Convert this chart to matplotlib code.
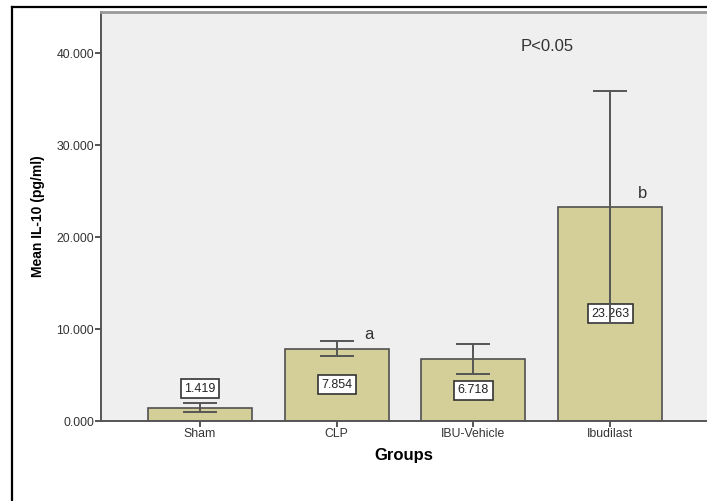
import numpy as np
import matplotlib
matplotlib.use('Agg')
import matplotlib.pyplot as plt
from matplotlib.lines import Line2D

plt.rcParams['font.family'] = ['Liberation Sans', 'DejaVu Sans']

groups = ['Sham', 'CLP', 'IBU-Vehicle', 'Ibudilast']
means = [1.419, 7.854, 6.718, 23.263]
errors = [0.49, 0.8, 1.6, 12.6]
letters = {1: 'a', 3: 'b'}

bar_color = '#d4cf99'

fig = plt.figure(figsize=(7.07, 5.01), dpi=100)
ax = fig.add_axes([101 / 707, 80 / 501, 606 / 707, 409 / 501])
ax.set_facecolor('#efefef')

x = np.arange(len(groups))
ax.bar(x, means, width=0.76, color=bar_color, edgecolor='#505050',
       linewidth=1.2, zorder=2)
ax.errorbar(x, means, yerr=errors, fmt='none', ecolor='#555555',
            elinewidth=1.4, capsize=12, capthick=1.4, zorder=5)

# value boxes: middle of the bar, or above it when the bar is too short
for xi, m, e in zip(x, means, errors):
    ly = m / 2 if m > 3 else m + e + 1.6
    ax.text(xi, ly, f'{m:.3f}', ha='center', va='center', fontsize=9,
            color='#222222', zorder=4,
            bbox=dict(boxstyle='square,pad=0.28', fc='white', ec='#333333', lw=1.2))

for i, s in letters.items():
    ax.text(x[i] + 0.2, means[i] + 1.5, s, ha='left', va='center',
            fontsize=12, color='#333333')

ax.text(2.54, 40.7, 'P<0.05', ha='center', va='center', fontsize=12,
        color='#333333')

ax.set_xlim(-0.723, 3.708)
ax.set_ylim(0, 44.46)
ax.set_yticks([0, 10, 20, 30, 40])
ax.set_yticklabels(['0.000', '10.000', '20.000', '30.000', '40.000'])
ax.set_xticks(x)
ax.set_xticklabels(groups)
ax.tick_params(axis='both', direction='out', length=4, width=1.4,
               color='#555555', labelsize=8.8, labelcolor='#333333', pad=1)

for side in ['left', 'bottom']:
    ax.spines[side].set_color('#555555')
    ax.spines[side].set_linewidth(1.4)
ax.spines['top'].set_color('#999999')
ax.spines['top'].set_linewidth(2)
ax.spines['right'].set_visible(False)

ax.set_ylabel('Mean IL-10 (pg/ml)', fontsize=10, fontweight='bold', labelpad=8)
ax.set_xlabel('Groups', fontsize=12, fontweight='bold', labelpad=6)

# outer frame
fig.add_artist(Line2D([11.5 / 707, 11.5 / 707], [0, 1 - 6.5 / 501],
                      color='black', lw=1.6, transform=fig.transFigure))
fig.add_artist(Line2D([11.5 / 707, 1], [1 - 6.5 / 501, 1 - 6.5 / 501],
                      color='black', lw=1.6, transform=fig.transFigure))

fig.savefig('out.png', dpi=100)
